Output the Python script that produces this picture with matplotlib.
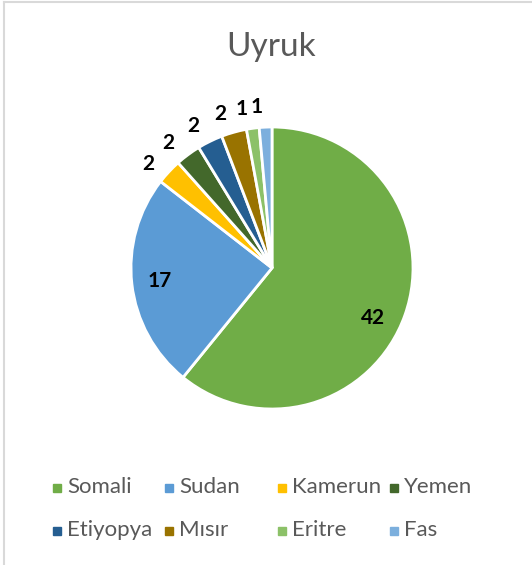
import numpy as np
import matplotlib
matplotlib.use("Agg")
import matplotlib.pyplot as plt
from matplotlib.lines import Line2D

plt.rcParams["font.family"] = ["Lato", "DejaVu Sans"]

countries = ["Somali", "Sudan", "Kamerun", "Yemen", "Etiyopya", "Mısır", "Eritre", "Fas"]
counts = [42, 17, 2, 2, 2, 2, 1, 1]
colors = ["#70AD47", "#5B9BD5", "#FFC000", "#43682B", "#255E91", "#997300", "#8CC168", "#7CAFDD"]

W, H = 532, 565
fig = plt.figure(figsize=(W / 100, H / 100), dpi=100)

# chart frame (left and top edges only show in the picture)
fig.add_artist(Line2D([4 / W, 4 / W], [0, 1 - 2 / H], color="#D9D9D9", lw=1.5))
fig.add_artist(Line2D([4 / W, 1], [1 - 2 / H, 1 - 2 / H], color="#D9D9D9", lw=1.5))

# pie axes: center ~ (272, 268) px, radius ~ 140 px
r_px = 141
cx, cy = 272, 268
ax = fig.add_axes([(cx - r_px) / W, 1 - (cy + r_px) / H, 2 * r_px / W, 2 * r_px / H])

wedges, _ = ax.pie(counts, colors=colors, startangle=90, counterclock=False,
                   wedgeprops=dict(edgecolor="white", linewidth=2))
ax.set_aspect("equal")
ax.set_xlim(-1, 1)
ax.set_ylim(-1, 1)
ax.axis("off")

for w, v in zip(wedges, counts):
    mid = np.deg2rad((w.theta1 + w.theta2) / 2)
    if v >= 10:
        r = 0.8
        if v == max(counts):
            mid -= np.deg2rad(7)
    else:
        r = 1.15
        mid += np.deg2rad(3)
    ax.text(r * np.cos(mid), r * np.sin(mid), str(v), ha="center", va="center",
            fontsize=15, fontweight="bold", color="black", clip_on=False)

fig.text(271 / W, 1 - 47 / H, "Uyruk", ha="center", va="center",
         fontsize=24, color="#595959")

# legend: 4 equal-width columns, filled row by row (Excel style)
for i, (name, c) in enumerate(zip(countries, colors)):
    row, col = divmod(i, 4)
    x = 57 + col * 112.3
    y = 488 + row * 43
    fig.add_artist(Line2D([x / W], [1 - y / H], marker="s", linestyle="none", markersize=6,
                          markerfacecolor=c, markeredgecolor=c))
    fig.text((x + 10) / W, 1 - (y - 1) / H, name, ha="left", va="center",
             fontsize=16, color="#595959")

fig.savefig("out.png", dpi=100, facecolor="white")
